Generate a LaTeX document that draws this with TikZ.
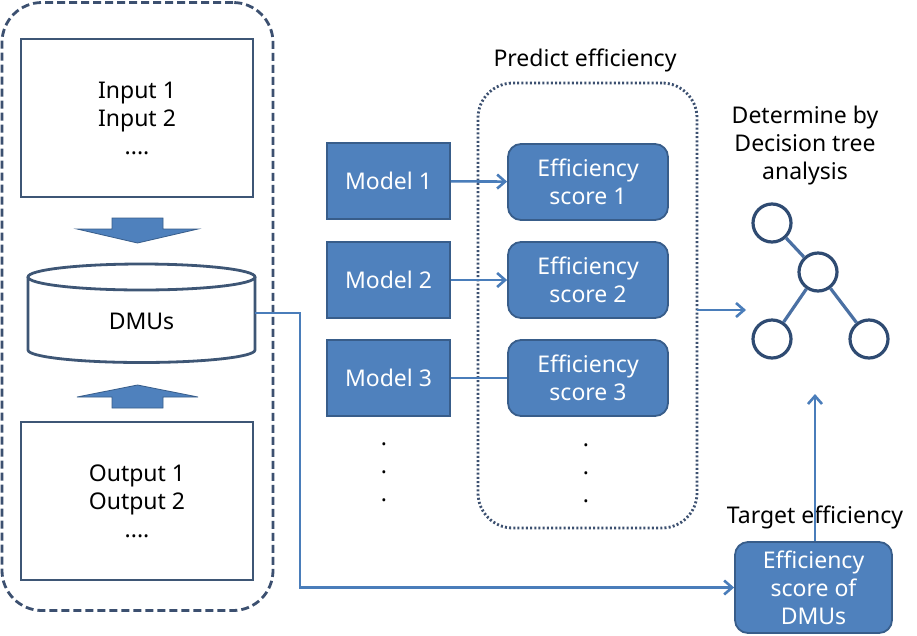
\documentclass[tikz,border=0pt]{standalone}
\usepackage{fontspec}
\setmainfont{Noto Sans}
\usetikzlibrary{arrows.meta,shapes.geometric}
\definecolor{blueF}{HTML}{4F81BD}
\definecolor{blueD}{HTML}{385D8A}
\definecolor{lineB}{HTML}{4A7DBA}
\definecolor{dashC}{HTML}{3C5070}
\definecolor{boxC}{HTML}{3E5675}
\definecolor{circC}{HTML}{2F4B72}
\definecolor{treeL}{HTML}{4A70A3}
\tikzset{
  txt/.style={font=\fontsize{23}{28}\selectfont, align=center, inner sep=0pt},
  iobox/.style={txt, draw=boxC, line width=2.8pt, fill=white, minimum width=232pt, minimum height=158pt},
  modelbox/.style={txt, text=white, fill=blueF, draw=blueD, line width=1.8pt, minimum width=123pt, minimum height=76pt},
  scorebox/.style={modelbox, rounded corners=13pt, minimum width=160pt},
  conn/.style={draw=lineB, line width=2.6pt},
  arr/.style={conn, -{Straight Barb[length=8pt,width=14pt,line width=2.6pt]}},
  treenode/.style={circle, draw=circC, line width=3.2pt, fill=white, minimum size=38pt, inner sep=0pt},
  blockarrow/.style={fill=blueF, draw=blueD, line width=0.8pt},
}
\begin{document}
\begin{tikzpicture}[x=1pt,y=1pt]
\useasboundingbox (0,0) rectangle (917,-635);
\fill[white] (0,0) rectangle (917,-635);

% outer dashed container
\node[draw=dashC, line width=2.8pt, dash pattern=on 8pt off 4pt, rounded corners=40pt,
      minimum width=271pt, minimum height=608pt, inner sep=0pt] (outer) at (137.5,-306.5) {};

% input / output boxes
\node[iobox] (inp) at (137,-118) {Input 1\\Input 2\\....};
\node[iobox] (outp) at (137,-501) {Output 1\\Output 2\\....};

% block arrows
\draw[blockarrow] (112,-218) -- (163,-218) -- (163,-229) -- (198,-229) -- (137.5,-243)
   -- (77,-229) -- (112,-229) -- cycle;
\draw[blockarrow] (112,-408) -- (163,-408) -- (163,-397) -- (198,-397) -- (137.5,-385)
   -- (77,-397) -- (112,-397) -- cycle;

% cylinder
\draw[draw=boxC, line width=2.8pt, fill=white] (28,-277) -- (28,-350) arc (180:360:113.5 and 12.5) -- (255,-277);
\draw[draw=boxC, line width=2.8pt, fill=white] (141.5,-277) ellipse (113.5 and 13);
\node[txt] (dmu) at (141.5,-321) {DMUs};
\coordinate (dmuR) at (255,-313);

% predict efficiency container
\node[draw=dashC, line width=2.8pt, dash pattern=on 2pt off 2.2pt, rounded corners=35pt,
      minimum width=219pt, minimum height=445pt, inner sep=0pt] (pred) at (587.5,-305.5) {};
\node[txt] (predT) at (585,-60) {Predict efficiency};

% models and scores
\node[modelbox] (m1) at (388.5,-181) {Model 1};
\node[modelbox] (m2) at (388.5,-280) {Model 2};
\node[modelbox] (m3) at (388.5,-378) {Model 3};
\node[scorebox] (s1) at (588,-182) {Efficiency\\score 1};
\node[scorebox] (s2) at (588,-280) {Efficiency\\score 2};
\node[scorebox] (s3) at (588,-378) {Efficiency\\score 3};
\draw[arr] (m1) -- (s1);
\draw[arr] (m2) -- (s2);
\draw[conn] (m3) -- (s3);

\node[txt] (d1) at (384,-472) {.\\.\\.};
\node[txt] (d2) at (586,-473) {.\\.\\.};

% decision tree
\node[txt] (detT) at (805,-146) {Determine by\\Decision tree\\analysis};
\node[treenode] (t1) at (772,-223) {};
\node[treenode] (t2) at (818,-272) {};
\node[treenode] (t3) at (772,-339) {};
\node[treenode] (t4) at (869,-339) {};
\draw[draw=treeL, line width=3.2pt] (t1) -- (t2) (t2) -- (t3) (t2) -- (t4);

\coordinate (predOut) at (697,-310);
\coordinate (treeIn) at (746,-310);
\draw[arr] (predOut) -- (treeIn);

% target efficiency
\node[scorebox, minimum width=157pt, minimum height=91pt] (effD) at (813.5,-587.5) {Efficiency\\score of\\DMUs};
\node[txt] (tgtT) at (815,-517) {Target efficiency};
\coordinate (treeB) at (815,-394);
\draw[arr] (effD.north -| treeB) -- (treeB);

% DMU connector
\draw[arr] (dmuR) -- (300,-313) |- (effD.west);
\end{tikzpicture}
\end{document}
